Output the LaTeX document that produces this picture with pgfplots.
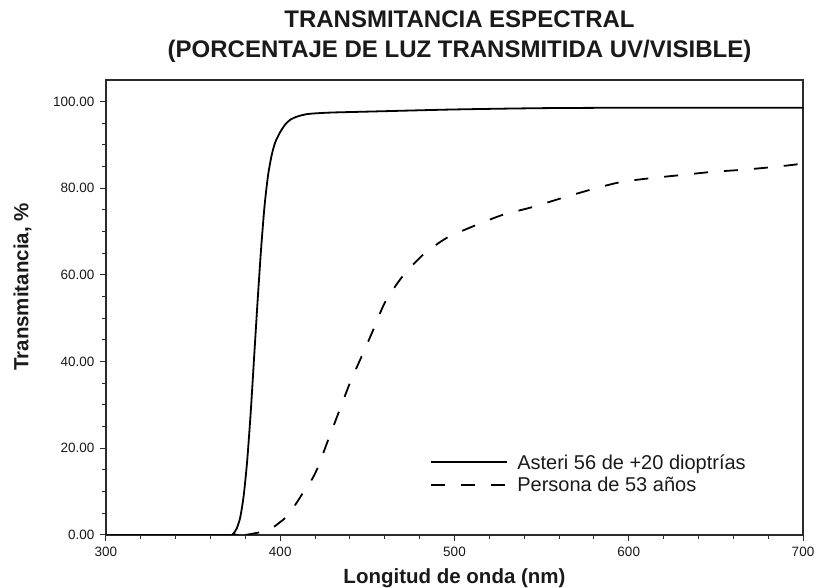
\documentclass[border=0pt]{standalone}
\usepackage{pgfplots}
\pgfplotsset{compat=1.18}
\usepackage{fontspec}
\setmainfont{Liberation Sans}
\definecolor{axgray}{HTML}{2B2B2B}
\definecolor{txt}{HTML}{1A1A1A}
\begin{document}
\begin{tikzpicture}[x=1pt,y=1pt]
\useasboundingbox (-106,-53) rectangle (710,535);
\begin{axis}[
  at={(0,0)}, anchor=south west,
  scale only axis, width=697pt, height=455pt,
  xmin=300, xmax=700, ymin=0, ymax=105,
  xtick={300,400,500,600,700},
  ytick={0,20,40,60,80,100},
  minor x tick num=4, minor y tick num=3,
  xtick pos=bottom, ytick pos=left, tick align=outside,
  major tick length=6pt, minor tick length=4pt,
  every tick/.style={axgray, line width=1pt},
  axis line style={axgray, line width=1.8pt},
  /pgf/number format/assume math mode=true,
  tick label style={font=\fontsize{13.5}{15}\selectfont, text=txt},
  yticklabel style={xshift=-2pt, /pgf/number format/.cd, fixed, fixed zerofill, precision=2},
  xticklabel style={yshift=-3pt, /pgf/number format/.cd, 1000 sep={}},
  xlabel={\textbf{Longitud de onda (nm)}},
  ylabel={\textbf{Transmitancia, \%}},
  label style={font=\fontsize{20.5}{24}\selectfont, text=txt},
  xlabel style={at={(axis description cs:0.5,0)}, anchor=north, yshift=-30pt},
  ylabel style={at={(axis description cs:0,0.545)}, anchor=south, yshift=71pt},
  title={\textbf{TRANSMITANCIA ESPECTRAL}\\\textbf{(PORCENTAJE DE LUZ TRANSMITIDA UV/VISIBLE)}},
  title style={font=\fontsize{24}{30}\selectfont, align=center, text=txt, at={(axis description cs:0.5,1)}, anchor=south, yshift=8pt, xshift=5pt},
  legend style={draw=none, fill=none, at={(rel axis cs:0.465,0.182)}, anchor=north west,
    font=\fontsize{20}{24}\selectfont, text=txt, row sep=2.5pt, column sep=7pt, inner sep=0pt},
  legend cell align=left,
  legend image code/.code={\draw[#1, line width=2pt] (0pt,0.5pt) -- (76pt,0.5pt);},
]
\addplot[black, line width=1.8pt, smooth, tension=0.4] coordinates {
(300,0) (370,0) (373,0.3) (375,1.5) (377,4) (379,9) (381,17) (383,28) (385,41)
(387,54) (389,66) (391,76) (393,83) (395,87.5) (397,90.5) (400,93) (403,94.8)
(406,95.9) (410,96.6) (415,97.1) (420,97.3) (430,97.5) (450,97.7) (500,98.2)
(550,98.5) (600,98.6) (650,98.6) (700,98.6)};
\addlegendentry{Asteri 56 de +20 dioptrías}
\addplot[black, line width=1.8pt, dash pattern=on 14pt off 16pt, smooth, tension=0.4] coordinates {
(380,0) (385.5,0.4) (390,0.8) (396,1.8) (400,3) (403,4) (408.5,6.9) (413,9.7)
(418,12.7) (421.7,15.7) (426.8,21.2) (432.6,27.3) (440,35.1) (445.8,40.4)
(452.7,46.7) (460,53.6) (470,59.6) (482,64.7) (495.7,68.6) (512.9,71.6)
(527.8,73.9) (545,75.7) (562,77.8) (580,79.9) (596,81.5) (614,82.4) (631,83.1)
(648,83.8) (666,84.3) (685,85.0) (700,85.7)};
\addlegendentry{Persona de 53 años}
\end{axis}
\end{tikzpicture}
\end{document}
